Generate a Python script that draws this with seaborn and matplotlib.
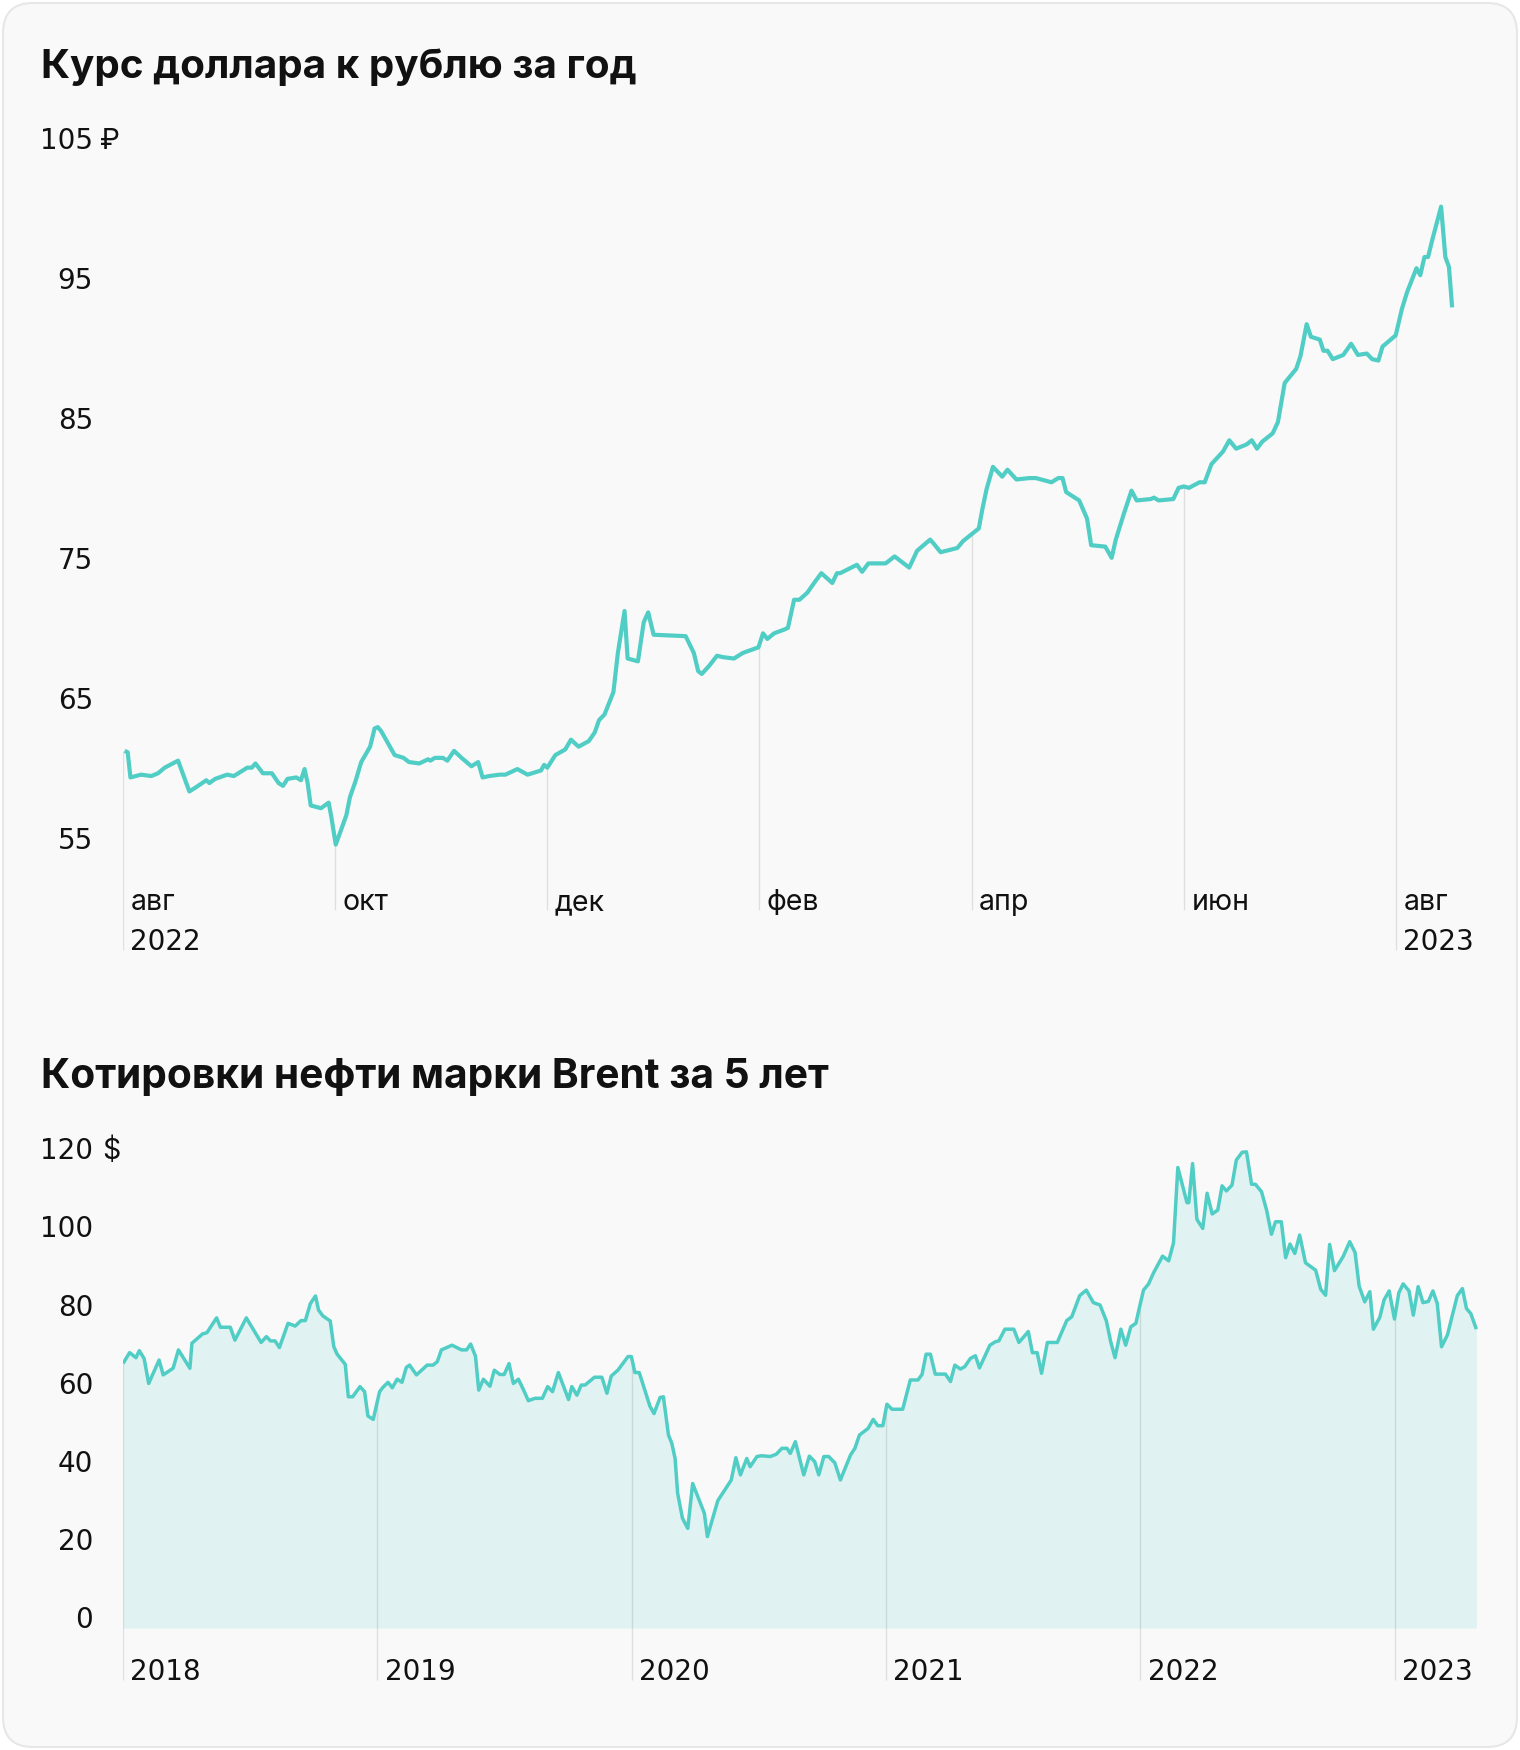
import numpy as np
import pandas as pd
import matplotlib
matplotlib.use('Agg')
import matplotlib.pyplot as plt
import matplotlib.transforms as mtransforms
from matplotlib.patches import FancyBboxPatch
import seaborn as sns

# --- данные: курс доллара (x = месяцы от августа 2022) ---
usd_m = [0.017, 0.046, 0.072, 0.122, 0.172, 0.269, 0.332, 0.395, 0.521, 0.627,
         0.690, 0.787, 0.816, 0.871, 0.984, 1.047, 1.173, 1.216, 1.250, 1.320,
         1.405, 1.468, 1.510, 1.552, 1.636, 1.679, 1.713, 1.742, 1.771, 1.868,
         1.940, 1.965, 2.007, 2.107, 2.141, 2.192, 2.247, 2.331, 2.373, 2.403,
         2.436, 2.562, 2.646, 2.697, 2.794, 2.878, 2.899, 2.941, 3.017, 3.059,
         3.122, 3.193, 3.286, 3.349, 3.391, 3.454, 3.551, 3.606, 3.719, 3.815,
         3.942, 3.971, 4.001, 4.077, 4.170, 4.224, 4.296, 4.392, 4.447, 4.489,
         4.540, 4.624, 4.666, 4.729, 4.758, 4.855, 4.910, 4.952, 5.003, 5.305,
         5.382, 5.423, 5.457, 5.529, 5.600, 5.655, 5.760, 5.844, 5.991, 6.034,
         6.075, 6.138, 6.244, 6.269, 6.327, 6.377, 6.451, 6.525, 6.584, 6.687,
         6.731, 6.761, 6.919, 6.968, 7.027, 7.190, 7.274, 7.412, 7.486, 7.609,
         7.644, 7.708, 7.865, 7.920, 8.068, 8.102, 8.141, 8.201, 8.289, 8.338,
         8.422, 8.546, 8.605, 8.753, 8.817, 8.857, 8.891, 9.014, 9.088, 9.127,
         9.260, 9.320, 9.359, 9.433, 9.507, 9.556, 9.689, 9.719, 9.763, 9.901,
         9.951, 10.000, 10.049, 10.148, 10.197, 10.261, 10.370, 10.429, 10.493, 10.591,
         10.641, 10.690, 10.739, 10.838, 10.887, 10.951, 11.059, 11.099, 11.158, 11.198,
         11.282, 11.316, 11.355, 11.404, 11.503, 11.577, 11.641, 11.725, 11.775, 11.834,
         11.873, 11.997, 12.056, 12.105, 12.193, 12.229, 12.268, 12.302, 12.341, 12.425,
         12.465, 12.499, 12.529]
usd_v = [62.0, 61.9, 60.1, 60.2, 60.3, 60.2, 60.4, 60.8, 61.3, 59.1,
         59.4, 59.9, 59.7, 60.0, 60.3, 60.2, 60.8, 60.8, 61.1, 60.4,
         60.4, 59.7, 59.5, 60.0, 60.1, 59.9, 60.7, 59.7, 58.1, 57.9,
         58.3, 57.3, 55.3, 57.4, 58.7, 59.8, 61.2, 62.3, 63.6, 63.7,
         63.4, 61.7, 61.5, 61.2, 61.1, 61.4, 61.3, 61.5, 61.5, 61.3,
         62.0, 61.5, 60.9, 61.2, 60.1, 60.2, 60.3, 60.3, 60.7, 60.3,
         60.6, 61.0, 60.8, 61.7, 62.1, 62.8, 62.3, 62.7, 63.3, 64.2,
         64.6, 66.2, 69.0, 72.0, 68.6, 68.4, 71.2, 71.9, 70.3, 70.2,
         69.0, 67.7, 67.5, 68.1, 68.8, 68.7, 68.6, 69.0, 69.4, 70.4,
         70.0, 70.4, 70.7, 70.8, 72.8, 72.8, 73.3, 74.1, 74.7, 74.0,
         74.7, 74.7, 75.3, 74.8, 75.4, 75.4, 75.9, 75.1, 76.3, 77.1,
         76.8, 76.2, 76.5, 77.0, 77.9, 79.3, 80.7, 82.3, 81.6, 82.1,
         81.4, 81.5, 81.5, 81.2, 81.5, 81.5, 80.5, 79.9, 78.6, 76.7,
         76.6, 75.8, 77.1, 78.9, 80.6, 79.9, 80.0, 80.1, 79.9, 80.0,
         80.8, 80.9, 80.8, 81.2, 81.2, 82.5, 83.4, 84.2, 83.6, 83.9,
         84.2, 83.6, 84.1, 84.7, 85.5, 88.3, 89.3, 90.2, 92.5, 91.6,
         91.4, 90.6, 90.6, 90.0, 90.3, 91.1, 90.3, 90.4, 90.0, 89.9,
         90.9, 91.7, 93.6, 94.8, 96.5, 96.0, 97.3, 97.3, 98.5, 100.9,
         97.3, 96.6, 93.7]
usd_ticks = [105, 95, 85, 75, 65, 55]
usd_month_pos = [0, 2, 4, 6, 8, 10, 12]
usd_month_lbl = ['авг', 'окт', 'дек', 'фев', 'апр', 'июн', 'авг']
usd_year_pos = [0, 12]
usd_year_lbl = ['2022', '2023']

# --- данные: Brent (доля года внутри каждого года) ---
brent_2018_t = [0.000, .026, .051, .064, .083, .101, .142, .158, .197, .218,
                .263, .271, .313, .330, .368, .383, .422, .440, .485, .543,
                .564, .580, .598, .615, .649, .677, .700, .717, .737, .757,
                .769, .786, .815, .829, .842, .874, .886, .903, .932, .950,
                .963, .984]
brent_2018_v = [67.7, 70.5, 69.2, 71.0, 69.0, 62.6, 68.6, 64.8, 66.5, 71.2,
                66.5, 72.9, 75.3, 75.6, 79.4, 77.0, 77.0, 73.7, 79.4, 73.1,
                74.6, 73.5, 73.5, 71.8, 78.0, 77.3, 78.7, 78.7, 83.1, 85.0,
                81.4, 79.9, 78.6, 72.0, 70.1, 67.5, 59.2, 59.2, 61.8, 60.5,
                54.3, 53.4]
brent_2019_t = [.009, .022, .042, .059, .078, .097, .114, .127, .154, .196,
                .219, .236, .252, .294, .331, .351, .367, .386, .399, .417,
                .443, .460, .482, .499, .518, .535, .555, .574, .594, .620,
                .649, .670, .689, .712, .752, .765, .785, .802, .817, .854,
                .883, .903, .920, .946, .986, .999]
brent_2019_v = [60.5, 61.6, 62.9, 61.5, 63.7, 62.9, 66.7, 67.3, 64.8, 67.3,
                67.3, 68.2, 71.2, 72.4, 71.2, 71.2, 72.7, 69.6, 60.9, 63.7,
                61.9, 66.0, 64.9, 64.9, 67.7, 62.6, 63.7, 61.1, 58.2, 58.8,
                58.8, 61.8, 60.5, 65.4, 58.5, 61.8, 59.6, 62.2, 62.2, 64.2,
                64.2, 60.1, 64.5, 66.0, 69.5, 69.5]
brent_2020_t = [.013, .030, .072, .088, .112, .125, .145, .158, .171, .181,
                .200, .221, .240, .286, .298, .339, .392, .410, .428, .453,
                .466, .493, .512, .545, .569, .591, .611, .624, .644, .677,
                .699, .720, .736, .756, .775, .799, .821, .861, .878, .896,
                .930, .950, .968, .988]
brent_2020_v = [65.4, 65.4, 56.8, 54.9, 59.0, 59.2, 49.4, 47.3, 43.4, 34.5,
                28.1, 25.5, 37.0, 29.4, 23.4, 32.6, 37.9, 43.6, 39.2, 43.4,
                41.3, 43.9, 44.1, 43.9, 44.5, 46.0, 46.0, 44.7, 47.7, 39.2,
                44.0, 42.6, 39.2, 43.9, 43.9, 42.3, 37.9, 44.3, 46.0, 49.4,
                51.1, 53.4, 51.8, 51.8]
brent_2021_t = [.004, .024, .066, .096, .126, .142, .158, .175, .194, .234,
                .254, .271, .293, .310, .332, .352, .368, .409, .431, .444,
                .468, .503, .523, .560, .576, .595, .612, .635, .674, .711,
                .731, .762, .788, .816, .842, .867, .884, .901, .924, .943,
                .963, .983, .996]
brent_2021_v = [57.3, 56.0, 56.0, 63.5, 63.5, 64.9, 70.1, 70.1, 65.0, 65.0,
                63.1, 67.3, 66.3, 66.9, 69.0, 69.7, 66.6, 72.4, 73.3, 73.5,
                76.5, 76.5, 73.1, 75.9, 70.5, 70.5, 65.2, 73.1, 73.1, 78.7,
                79.7, 85.1, 86.5, 83.3, 82.7, 78.6, 73.3, 69.2, 76.5, 72.4,
                77.1, 78.0, 81.8]
brent_2022_t = [.013, .033, .053, .088, .112, .131, .148, .184, .191, .206,
                .223, .246, .263, .283, .305, .322, .339, .361, .378, .401,
                .418, .438, .453, .477, .497, .516, .532, .555, .572, .589,
                .608, .627, .650, .690, .710, .729, .745, .764, .798, .824,
                .845, .861, .883, .903, .917, .942, .959, .979]
brent_2022_v = [86.5, 88.1, 91.0, 95.2, 94.0, 98.6, 117.9, 108.9, 108.9, 118.9,
                104.6, 102.3, 111.3, 106.0, 107.0, 113.2, 111.9, 113.4, 119.8, 121.8,
                121.9, 113.6, 113.6, 111.7, 107.0, 100.8, 104.0, 104.0, 94.8, 98.3,
                95.9, 100.6, 93.5, 91.6, 86.7, 85.2, 98.2, 91.5, 95.1, 98.9,
                96.1, 87.5, 83.5, 86.1, 76.5, 79.5, 84.0, 86.3]
brent_2023_t = [.000, .017, .034, .057, .074, .093, .112, .133, .151, .168,
                .185, .208, .247, .267, .283, .300, .322]
brent_2023_v = [79.1, 85.8, 88.1, 86.3, 80.1, 87.4, 83.3, 83.6, 86.3, 83.1,
                72.0, 75.0, 85.1, 86.9, 81.8, 80.5, 76.5]
brent_ticks = [120, 100, 80, 60, 40, 20, 0]
brent_years = [2018, 2019, 2020, 2021, 2022, 2023]

years_t = {2018: brent_2018_t, 2019: brent_2019_t, 2020: brent_2020_t,
           2021: brent_2021_t, 2022: brent_2022_t, 2023: brent_2023_t}
years_v = [brent_2018_v, brent_2019_v, brent_2020_v, brent_2021_v, brent_2022_v, brent_2023_v]
brent = pd.DataFrame({
    't': np.concatenate([y + np.array(tt) for y, tt in years_t.items()]),
    'v': np.concatenate(years_v),
})
usd = pd.DataFrame({'m': usd_m, 'v': usd_v})

LINE = '#50cdc4'
FILL = '#e0f2f1'
BG = '#f9f9f9'
GRID = (0, 0, 0, 0.10)
INK = '#111111'

sns.set_theme(style='white')
plt.rcParams['font.family'] = ['Inter', 'DejaVu Sans']
NUM_FONT = ['DejaVu Sans']   # широкие цифры, как в оригинале

W, H = 1520, 1750
fig = plt.figure(figsize=(W / 100, H / 100), dpi=100)
fig.patch.set_facecolor('white')
card = FancyBboxPatch((3, 3), W - 6, H - 6, boxstyle='round,pad=0,rounding_size=30',
                      transform=mtransforms.IdentityTransform(),
                      facecolor=BG, edgecolor='#e7e7e7', lw=1.5, zorder=-10)
fig.patches.append(card)

FS = 20.5
FS_NUM = 20


def yaxis_labels(ax, ticks, unit, unit_dx):
    base = mtransforms.blended_transform_factory(ax.transAxes, ax.transData)
    tr = mtransforms.offset_copy(base, fig=fig, x=-29.8, y=0, units='dots')
    for v in ticks:
        ax.text(0, v, str(v), transform=tr, ha='right', va='baseline', fontsize=FS_NUM,
                family=NUM_FONT, color=INK)
    tr_u = mtransforms.offset_copy(base, fig=fig, x=unit_dx, y=0, units='dots')
    ax.text(0, ticks[0], unit, transform=tr_u, ha='left', va='baseline', fontsize=FS, color=INK)


# ---------- верхний график ----------
L1, R1, T1, B1 = 122.8, 1460, 130, 960
px_month, px_unit1, v55_px = 106.1, 13.99, 848.8


def v1(ypx):
    return 55 + (v55_px - ypx) / px_unit1


ax1 = fig.add_axes([L1 / W, 1 - B1 / H, (R1 - L1) / W, (B1 - T1) / H])
ax1.set_facecolor('none')
sns.lineplot(data=usd, x='m', y='v', ax=ax1, color=LINE, lw=3, estimator=None, sort=False,
             solid_capstyle='butt', zorder=3)
ax1.set_xlim(0, (R1 - L1) / px_month)
ax1.set_ylim(v1(B1), v1(T1))
ax1.set_axis_off()

off1 = mtransforms.offset_copy(ax1.transData, fig=fig, x=7.5, y=0, units='dots')
for m, lbl in zip(usd_month_pos, usd_month_lbl):
    top = np.interp(m, usd['m'], usd['v'])
    bottom = v1(950) if m in usd_year_pos else v1(910)
    ax1.vlines(m, bottom, top, color=GRID, lw=1, zorder=2)
    ax1.text(m, v1(910), lbl, transform=off1, ha='left', va='baseline', fontsize=FS, color=INK)
for m, lbl in zip(usd_year_pos, usd_year_lbl):
    ax1.text(m, v1(950), lbl, transform=off1, ha='left', va='baseline', fontsize=FS_NUM,
             family=NUM_FONT, color=INK)
yaxis_labels(ax1, usd_ticks, '₽', -22.5)

# ---------- нижний график ----------
L2, R2, T2, B2 = 123, 1480, 1140, 1690
px_year, px_unit2, zero_px = 254.3, 3.906, 1628


def v2(ypx):
    return (zero_px - ypx) / px_unit2


ax2 = fig.add_axes([L2 / W, 1 - B2 / H, (R2 - L2) / W, (B2 - T2) / H])
ax2.set_facecolor('none')
ax2.fill_between(brent['t'], 0, brent['v'], color=FILL, lw=0, zorder=1)
sns.lineplot(data=brent, x='t', y='v', ax=ax2, color=LINE, lw=2.5, estimator=None, sort=False,
             solid_capstyle='butt', zorder=3)
ax2.set_xlim(2018, 2018 + (R2 - L2) / px_year)
ax2.set_ylim(v2(B2), v2(T2))
ax2.set_axis_off()

off2 = mtransforms.offset_copy(ax2.transData, fig=fig, x=7.5, y=0, units='dots')
for yr in brent_years:
    top = np.interp(yr, brent['t'], brent['v'])
    ax2.vlines(yr, v2(1680), top, color=GRID, lw=1, zorder=2)
    ax2.text(yr, v2(1680), str(yr), transform=off2, ha='left', va='baseline', fontsize=FS_NUM,
             family=NUM_FONT, color=INK)
yaxis_labels(ax2, brent_ticks, '$', -21)

# ---------- заголовки ----------
fig.text(41 / W, 1 - 78 / H, 'Курс доллара к рублю за год', fontsize=29.1, fontweight='bold',
         ha='left', va='baseline', color=INK)
fig.text(41 / W, 1 - 1088 / H, 'Котировки нефти марки Brent за 5 лет', fontsize=29.3,
         fontweight='bold', ha='left', va='baseline', color=INK)

fig.savefig('out.png', dpi=100, facecolor='white')
